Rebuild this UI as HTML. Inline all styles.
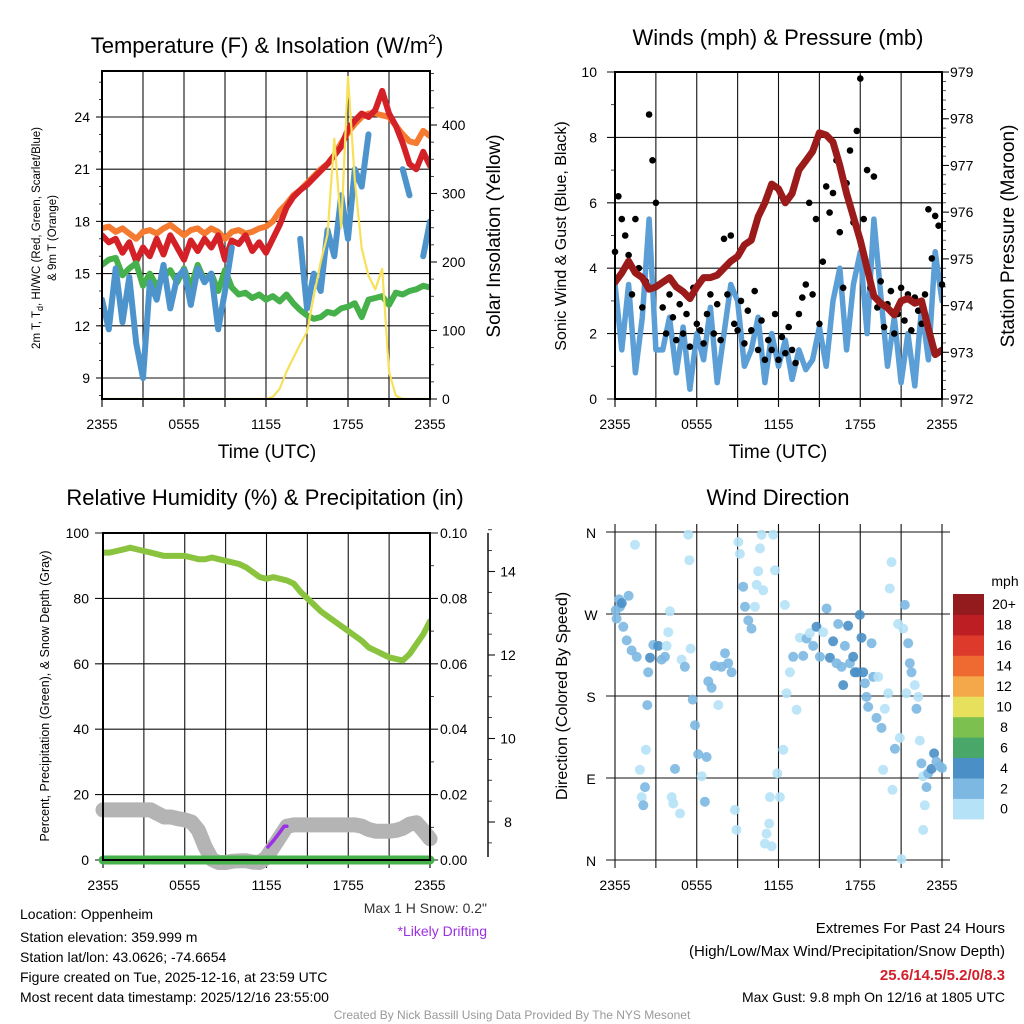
<!DOCTYPE html>
<html><head><meta charset="utf-8"><title>Mesonet Station Chart</title>
<style>
html,body{margin:0;padding:0;background:#fff;}
svg{display:block;font-family:"Liberation Sans",Arial,sans-serif;}
</style></head>
<body>
<svg id="chart" width="1024" height="1024" viewBox="0 0 1024 1024" xmlns="http://www.w3.org/2000/svg">
<defs>
<clipPath id="c1"><rect x="102" y="71" width="328" height="328"/></clipPath>
<clipPath id="c2"><rect x="615" y="72" width="327" height="327"/></clipPath>
<clipPath id="c3"><rect x="103" y="533" width="327" height="327"/></clipPath>
</defs>
<rect x="0" y="0" width="1024" height="1024" fill="#fff"/>
<g id="layer"></g>
<!-- titles -->
<text x="267" y="53" font-size="22" text-anchor="middle">Temperature (F) &amp; Insolation (W/m<tspan font-size="14" dy="-9">2</tspan><tspan dy="9">)</tspan></text>
<text x="778" y="45" font-size="22" text-anchor="middle">Winds (mph) &amp; Pressure (mb)</text>
<text x="265" y="505" font-size="22" text-anchor="middle">Relative Humidity (%) &amp; Precipitation (in)</text>
<text x="778" y="505" font-size="22" text-anchor="middle">Wind Direction</text>
<!-- axis titles -->
<text transform="translate(40,238) rotate(-90)" font-size="11.5" text-anchor="middle">2m T, T<tspan font-size="9" dy="3">d</tspan><tspan dy="-3">, HI/WC (Red, Green, Scarlet/Blue)</tspan></text>
<text transform="translate(56,238) rotate(-90)" font-size="11.5" text-anchor="middle">&amp; 9m T (Orange)</text>
<text transform="translate(500,236) rotate(-90)" font-size="19" text-anchor="middle">Solar Insolation (Yellow)</text>
<text x="267" y="458" font-size="19" text-anchor="middle">Time (UTC)</text>
<text transform="translate(566,236) rotate(-90)" font-size="16" text-anchor="middle">Sonic Wind &amp; Gust (Blue, Black)</text>
<text transform="translate(1014,236) rotate(-90)" font-size="19" text-anchor="middle">Station Pressure (Maroon)</text>
<text x="778" y="458" font-size="19" text-anchor="middle">Time (UTC)</text>
<text transform="translate(49,696) rotate(-90)" font-size="12.5" text-anchor="middle">Percent, Precipitation (Green), &amp; Snow Depth (Gray)</text>
<text transform="translate(567,696) rotate(-90)" font-size="16" text-anchor="middle">Direction (Colored By Speed)</text>
<text x="1005" y="586" font-size="14" text-anchor="middle">mph</text>
<!-- notes -->
<text x="487" y="913" font-size="14" text-anchor="end" fill="#333">Max 1 H Snow: 0.2"</text>
<text x="487" y="936" font-size="14" text-anchor="end" fill="#9b30e0">*Likely Drifting</text>
<g font-size="14">
<text x="20" y="919">Location: Oppenheim</text>
<text x="20" y="942">Station elevation: 359.999 m</text>
<text x="20" y="962">Station lat/lon: 43.0626; -74.6654</text>
<text x="20" y="982">Figure created on Tue, 2025-12-16, at 23:59 UTC</text>
<text x="20" y="1002">Most recent data timestamp: 2025/12/16 23:55:00</text>
</g>
<g font-size="15" text-anchor="end">
<text x="1005" y="933">Extremes For Past 24 Hours</text>
<text x="1005" y="956">(High/Low/Max Wind/Precipitation/Snow Depth)</text>
<text x="1005" y="980" fill="#d0202a" font-weight="bold">25.6/14.5/5.2/0/8.3</text>
<text x="1005" y="1002" font-size="14">Max Gust: 9.8 mph On 12/16 at 1805 UTC</text>
</g>
<text x="512" y="1019" font-size="12" text-anchor="middle" fill="#999">Created By Nick Bassill Using Data Provided By The NYS Mesonet</text>
</svg>
<script>
// ---------- DATA (half-hourly from 2355 to 2355 unless noted) ----------
const timeTicks = ["2355","0555","1155","1755","2355"];
const tempTicks = [9,12,15,18,21,24];
const insTicks = [0,100,200,300,400];
const temp9m = [17.6,17.7,17.4,17.6,17.3,17.0,17.4,17.5,17.3,17.6,17.8,17.5,17.2,17.5,17.6,17.3,17.6,17.4,17.0,17.4,17.5,17.3,17.4,17.6,17.7,18.0,18.6,19.0,19.5,19.8,20.2,20.6,21.0,21.3,21.8,22.5,23.1,23.6,24.0,24.2,24.2,24.1,24.0,23.5,23.0,22.6,22.5,23.2,22.9];
const temp2m = [17.2,16.8,17.0,16.2,16.8,15.7,16.5,16.0,17.0,16.1,17.2,16.5,15.8,16.9,16.3,17.0,16.5,17.2,15.8,16.9,16.7,17.2,16.3,16.8,16.2,17.0,17.8,18.8,19.4,19.8,20.1,20.5,20.9,21.3,21.8,22.3,23.3,23.8,24.2,24.0,24.4,25.5,24.2,23.5,22.5,21.3,21.0,22.0,21.2];
const dewpoint = [15.5,15.8,15.9,14.9,15.3,15.6,14.3,15.0,14.3,14.8,15.2,14.5,15.3,14.2,15.5,14.6,15.0,14.0,15.2,14.2,13.8,13.9,13.6,13.8,13.5,13.7,13.4,13.8,13.3,12.9,12.6,12.4,12.5,12.8,12.7,13.0,13.1,13.3,12.5,13.5,13.6,13.7,13.2,13.9,13.8,14.0,14.1,14.3,14.2];
const windChill = [13.5,11.8,15.3,12.2,14.8,11.0,9.0,14.5,13.5,15.5,13.0,14.8,15.2,13.2,15.3,14.5,15.0,11.8,14.0,16.5,null,null,null,null,null,null,null,null,null,17.0,13.0,15.0,14.0,17.5,16.0,19.5,17.0,21.0,20.0,23.0,null,null,null,null,21.0,19.5,null,16.0,18.0];
const insolation = [0,0,0,0,0,0,0,0,0,0,0,0,0,0,0,0,0,0,0,0,0,0,0,0,0,3,15,40,60,80,98,150,200,240,380,250,470,320,220,180,160,190,40,5,0,0,0,0,0];

const windTicks = [0,2,4,6,8,10];
const presTicks = [972,973,974,975,976,977,978,979];
const sonicWind = [3.5,1.5,3.5,0.8,2.5,5.5,1.5,1.5,2.5,0.8,2.2,0.3,2.0,1.2,2.8,0.5,2.0,3.5,3.0,1.0,1.5,2.5,0.5,2.0,1.0,1.8,0.6,1.5,0.9,1.2,2.2,1.0,3.0,4.0,1.5,3.5,4.5,2.0,5.5,3.2,1.0,2.5,0.5,2.0,0.4,2.8,1.2,4.5,3.0];
const pressure = [974.5,974.7,974.95,974.7,974.6,974.35,974.4,974.5,974.6,974.4,974.3,974.15,974.4,974.6,974.6,974.65,974.8,974.95,975.05,975.3,975.4,975.9,976.2,976.6,976.5,976.2,976.4,976.9,977.1,977.3,977.7,977.65,977.5,977.0,976.4,975.9,975.4,974.8,974.2,974.05,973.95,973.8,974.1,974.15,974.05,974.1,973.5,972.95,973.05];
// gusts every 15 minutes
const gusts = [4.5,6.2,5.5,5.0,4.4,3.2,5.5,4.0,2.8,3.6,8.7,7.3,6.0,3.5,2.8,2.0,3.2,2.5,1.8,2.9,2.0,2.6,1.6,3.4,2.3,2.1,1.7,2.6,3.2,2.0,2.9,1.8,4.9,3.2,5.0,2.3,2.1,3.0,1.7,2.7,2.1,3.3,1.5,2.4,1.2,1.8,1.5,2.6,1.2,1.9,1.4,2.2,1.5,1.1,2.6,3.1,3.5,6.0,3.2,5.5,2.3,4.2,6.5,5.7,6.3,7.3,5.1,3.4,6.6,7.6,5.4,8.2,9.8,5.5,7.0,3.4,6.8,2.8,3.6,2.2,2.9,3.3,2.0,2.6,3.4,2.4,3.2,2.1,3.1,2.7,2.3,3.2,5.8,4.3,5.6,5.3,3.5];

const rhTicks = [0,20,40,60,80,100];
const precipTicks = ["0.00","0.02","0.04","0.06","0.08","0.10"];
const snowTicks = [8,10,12,14];
const relHumidity = [94,94,94.5,95,95.5,95,94.5,94,93.5,93,93,93,93,92.5,92,92,92.5,92,91.5,91,90.5,89.5,88,86.5,86,86.5,86,85.5,84.5,82,80,78,76,74.5,73,71.5,70,68.5,67,65,64,63,62,61.5,61,63,66,69,73];
const precip = [0,0,0,0,0,0,0,0,0,0,0,0,0,0,0,0,0,0,0,0,0,0,0,0,0,0,0,0,0,0,0,0,0,0,0,0,0,0,0,0,0,0,0,0,0,0,0,0,0];
const snowDepth = [8.29,8.29,8.29,8.29,8.29,8.29,8.29,8.29,8.2,8.12,8.12,8.08,8.05,8.0,7.8,7.4,7.1,7.03,7.03,7.06,7.07,7.07,7.04,7.03,7.15,7.4,7.65,7.9,7.93,7.93,7.93,7.93,7.93,7.93,7.93,7.93,7.93,7.93,7.9,7.82,7.78,7.78,7.78,7.8,7.85,7.95,7.98,7.8,7.6];
const driftHours = [12.1,12.5,12.9,13.3,13.5];
const driftSnow = [7.4,7.55,7.72,7.9,7.9];

const dirLabels = ["N","E","S","W","N"];
const dirHours = [0.12,0.37,0.61,0.86,1.22,1.59,1.47,1.83,1.96,2.08,2.2,2.27,2.37,2.44,2.57,2.81,3.18,3.42,3.67,3.79,3.91,4.03,4.16,4.28,4.4,4.77,4.89,5.13,5.38,5.45,5.55,5.7,5.87,6.11,6.36,6.6,6.72,6.85,7.09,7.33,7.58,7.82,8.07,8.31,8.56,8.8,8.92,9.05,9.17,9.41,9.54,9.78,10.02,10.27,10.39,10.51,10.64,10.76,10.88,11.0,11.12,11.32,11.37,11.49,11.61,11.74,11.91,12.1,12.35,12.47,12.59,12.84,13.08,13.33,13.57,13.81,14.06,14.3,14.55,14.79,15.04,15.28,15.53,15.77,16.01,16.26,16.38,16.63,16.75,16.87,17.11,17.24,17.48,17.6,17.73,17.97,18.09,18.22,18.34,18.46,18.58,18.83,18.95,19.19,19.32,19.56,19.68,19.8,20.05,20.17,20.29,20.37,20.54,20.78,20.9,21.03,21.15,21.27,21.39,21.52,21.64,21.76,22.0,22.13,22.25,22.37,22.49,22.62,22.74,22.62,22.86,22.98,23.23,23.42,23.59,23.84,24.0,0.05,0.3,0.5,1.0];
const dirDegrees = [265,278,256,241,230,223,346,99,69,60,80,121,170,206,222,236,235,220,223,235,250,273,69,62,100,51,220,212,357,329,232,176,148,116,92,64,113,196,189,213,170,212,227,216,206,55,33,349,336,300,278,263,254,278,302,317,342,357,296,18,29,40,69,15,357,318,95,69,121,280,183,206,223,165,244,224,243,249,235,256,223,250,276,222,240,216,259,212,192,235,257,216,223,206,206,269,244,206,194,179,168,238,201,156,201,145,99,166,183,298,327,77,122,259,134,1,254,280,183,238,216,206,192,166,179,131,106,92,60,33,80,95,100,117,108,103,101,274,286,282,290];
const dirSpeeds = [3,3,3,3,3,3,1,1,1,3,3,1,3,3,5,3,5,3,3,1,1,1,1,1,3,1,1,3,1,1,1,3,3,3,1,3,3,3,3,3,1,3,3,3,3,1,1,1,1,3,3,3,3,1,1,1,1,1,1,1,1,1,1,1,1,1,1,1,1,1,1,1,3,1,1,3,3,1,3,5,3,1,3,5,5,3,3,3,5,3,5,3,5,5,5,5,5,5,3,3,3,3,3,3,1,3,1,1,1,1,1,1,3,1,1,1,1,3,1,3,3,3,1,3,1,1,3,1,1,1,3,3,5,5,3,3,3,3,3,5,3];
const speedBins = ["0","2","4","6","8","10","12","14","16","18","20+"];
const speedColors = ["#b6e2f7","#7db8e2","#4a8fc6","#4aa76a","#7cc14f","#e6e05c","#f5a849","#ef6a30","#dd3a2c","#bd1e24","#931a1d"];

// ---------- helpers ----------
const NS = "http://www.w3.org/2000/svg";
const layer = document.getElementById("layer");
function mk(tag, attrs, parent) {
  const e = document.createElementNS(NS, tag);
  for (const k in attrs) e.setAttribute(k, attrs[k]);
  (parent || layer).appendChild(e);
  return e;
}
function hourOf(i, n) { return i * 24 / (n - 1); }
function seriesPath(vals, xf, yf) {
  let d = "", pen = false;
  vals.forEach((v, i) => {
    if (v === null) { pen = false; return; }
    d += (pen ? "L" : "M") + xf(hourOf(i, vals.length)).toFixed(1) + " " + yf(v).toFixed(1);
    pen = true;
  });
  return d;
}
function drawSeries(vals, xf, yf, color, w, name, clip) {
  const p = mk("path", {d: seriesPath(vals, xf, yf), fill: "none", stroke: color, "stroke-width": w, "stroke-linejoin": "round", "stroke-linecap": "round"});
  if (clip) p.setAttribute("clip-path", "url(#" + clip + ")");
  
  
  return p;
}
function gridLine(x1, y1, x2, y2, w) {
  const l = mk("line", {x1: x1, y1: y1, x2: x2, y2: y2, stroke: "#111", "stroke-width": w || 1.1});
  
  
  return l;
}
function label(x, y, txt, anchor, size, name) {
  const t = mk("text", {x: x, y: y, "font-size": size || 14, "text-anchor": anchor || "middle"});
  t.textContent = txt;
  
  
  return t;
}
function timeAxis(x0, x1, yb, tickLen) {
  const w = (x1 - x0) / 8;
  for (let k = 0; k <= 8; k++) {
    gridLine(x0 + k * w, yb, x0 + k * w, yb + tickLen, 1.2);
  }
  timeTicks.forEach((t, k) => { label(x0 + k * (x1 - x0) / 4, yb + 30, t, "middle", 14, "x-tick-label"); });
}

// ---------- Panel 1: temperature ----------
const p1 = {x0: 102, x1: 430, y0: 71, y1: 399};
const x1f = h => p1.x0 + h * (p1.x1 - p1.x0) / 24;
const yT = v => 378 - (v - 9) * 17.4;
const yI = v => 399 - v * 0.685;
for (let k = 0; k <= 8; k++) gridLine(x1f(k * 3), p1.y0, x1f(k * 3), p1.y1);
tempTicks.forEach(v => { gridLine(p1.x0, yT(v), p1.x1, yT(v)); label(p1.x0 - 12, yT(v) + 5, String(v), "end", 14, "temperature-tick-label"); gridLine(p1.x0 - 6, yT(v), p1.x0, yT(v)); });
for (let v = 8; v <= 26; v++) gridLine(p1.x0 - 3, yT(v), p1.x0, yT(v), 0.8);
insTicks.forEach(v => { label(p1.x1 + 12, yI(v) + 5, String(v), "start", 14, "insolation-tick-label"); gridLine(p1.x1, yI(v), p1.x1 + 7, yI(v)); });
for (let v = 25; v <= 475; v += 25) gridLine(p1.x1, yI(v), p1.x1 + 4, yI(v), 0.8);
timeAxis(p1.x0, p1.x1, p1.y1, 8);
drawSeries(temp9m, x1f, yT, "#f47b30", 6, "temp-9m-line", "c1");
drawSeries(temp2m, x1f, yT, "#d42027", 6, "temp-2m-line", "c1");
drawSeries(dewpoint, x1f, yT, "#46b04a", 6, "dewpoint-line", "c1");
drawSeries(windChill, x1f, yT, "#4d93cc", 6, "windchill-line", "c1");
drawSeries(insolation, x1f, yI, "#f7e05a", 2.2, "insolation-line", "c1");
const b1 = mk("rect", {x: p1.x0, y: p1.y0, width: p1.x1 - p1.x0, height: p1.y1 - p1.y0, fill: "none", stroke: "#000", "stroke-width": 2});



// ---------- Panel 2: winds & pressure ----------
const p2 = {x0: 615, x1: 942, y0: 72, y1: 399};
const x2f = h => p2.x0 + h * (p2.x1 - p2.x0) / 24;
const yW = v => 399 - v * 32.7;
const yP = v => 399 - (v - 972) * 46.71;
for (let k = 0; k <= 8; k++) gridLine(x2f(k * 3), p2.y0, x2f(k * 3), p2.y1);
windTicks.forEach(v => { gridLine(p2.x0 - 8, yW(v), p2.x1, yW(v)); label(p2.x0 - 18, yW(v) + 5, String(v), "end", 14, "wind-tick-label"); });
for (let v = 1; v <= 9; v += 2) gridLine(p2.x0 - 4, yW(v), p2.x0, yW(v), 0.8);
presTicks.forEach(v => { gridLine(p2.x1, yP(v), p2.x1 + 7, yP(v)); label(p2.x1 + 8, yP(v) + 5, String(v), "start", 14, "pressure-tick-label"); });
for (let v = 972.2; v < 979; v += 0.2) gridLine(p2.x1, yP(v), p2.x1 + 4, yP(v), 0.7);
timeAxis(p2.x0, p2.x1, p2.y1, 8);
drawSeries(sonicWind, x2f, yW, "#5b9fd6", 5.5, "sonic-wind-line", "c2");
gusts.forEach((v, i) => {
  const c = mk("circle", {cx: x2f(hourOf(i, gusts.length)).toFixed(1), cy: yW(v).toFixed(1), r: 3.3, fill: "#000"});
  
  
});
drawSeries(pressure, x2f, yP, "#9b1b1b", 7, "pressure-line", "c2");
const b2 = mk("rect", {x: p2.x0, y: p2.y0, width: p2.x1 - p2.x0, height: p2.y1 - p2.y0, fill: "none", stroke: "#000", "stroke-width": 2});



// ---------- Panel 3: humidity & precip ----------
const p3 = {x0: 103, x1: 430, y0: 533, y1: 860};
const x3f = h => p3.x0 + h * (p3.x1 - p3.x0) / 24;
const yRH = v => 860 - v * 3.27;
const yPr = v => 860 - v * 3270;
const yS = v => 822 - (v - 8) * 41.75;
for (let k = 0; k <= 8; k++) gridLine(x3f(k * 3), p3.y0, x3f(k * 3), p3.y1);
rhTicks.forEach(v => { gridLine(p3.x0 - 8, yRH(v), p3.x1 + 8, yRH(v)); label(p3.x0 - 14, yRH(v) + 5, String(v), "end", 14, "rh-tick-label"); });
precipTicks.forEach((t, k) => { label(p3.x1 + 10, yRH(k * 20) + 5, t, "start", 14, "precip-tick-label"); });
for (let v = 10; v < 100; v += 20) gridLine(p3.x1, yRH(v), p3.x1 + 4, yRH(v), 0.8);
const sAx = mk("line", {x1: 488, y1: 533, x2: 488, y2: 857, stroke: "#111", "stroke-width": 1.5});


snowTicks.forEach(v => { gridLine(488, yS(v), 495, yS(v)); label(508, yS(v) + 5, String(v), "middle", 14, "snow-tick-label"); });
for (let v = 7.5; v <= 15; v += 0.5) if (v % 2 !== 0) gridLine(488, yS(v), 492, yS(v), 0.8);
timeAxis(p3.x0, p3.x1, p3.y1, 8);
drawSeries(relHumidity, x3f, yRH, "#8ac43f", 6, "humidity-line", "c3");
drawSeries(snowDepth, x3f, yS, "#b4b4b4", 15, "snow-depth-line", null);
const dp = mk("path", {d: driftHours.map((h, i) => (i ? "L" : "M") + x3f(h).toFixed(1) + " " + yS(driftSnow[i]).toFixed(1)).join(""), fill: "none", stroke: "#9b30e6", "stroke-width": 3.5, "stroke-linecap": "round", "stroke-linejoin": "round"});


drawSeries(precip, x3f, yPr, "#46b04a", 9, "precipitation-line", null);
const b3 = mk("rect", {x: p3.x0, y: p3.y0, width: p3.x1 - p3.x0, height: p3.y1 - p3.y0, fill: "none", stroke: "#000", "stroke-width": 2});



// ---------- Panel 4: wind direction ----------
const p4 = {x0: 615, x1: 942, y0: 532, y1: 860};
const x4f = h => p4.x0 + h * (p4.x1 - p4.x0) / 24;
const yD = v => 860 - v * (328 / 360);
for (let k = 0; k <= 8; k++) gridLine(x4f(k * 3), p4.y0 - 8, x4f(k * 3), p4.y1 + 8);
dirLabels.forEach((t, k) => { gridLine(p4.x0 - 9, yD(k * 90), p4.x1 + 8, yD(k * 90)); label(p4.x0 - 24, yD(k * 90) + 6, t, "middle", 14, "direction-tick-label"); });
timeTicks.forEach((t, k) => { label(p4.x0 + k * (p4.x1 - p4.x0) / 4, p4.y1 + 30, t, "middle", 14, "x-tick-label"); });
dirDegrees.forEach((d, i) => {
  const s = dirSpeeds[i];
  const ci = Math.min(10, Math.floor(s / 2));
  const c = mk("circle", {cx: x4f(dirHours[i]).toFixed(1), cy: yD(d).toFixed(1), r: 5, fill: speedColors[ci], "fill-opacity": 0.9});
  
  
});
// colorbar
const cbTop = 594, cbH = 20.45;
speedColors.forEach((col, k) => {
  const y = cbTop + (10 - k) * cbH;
  const r = mk("rect", {x: 953, y: y.toFixed(1), width: 31, height: (cbH + 0.5).toFixed(1), fill: col});
  
  
  label(1004, y + cbH / 2 + 5, speedBins[k], "middle", 14, "colorbar-label");
});
</script>
</body></html>
